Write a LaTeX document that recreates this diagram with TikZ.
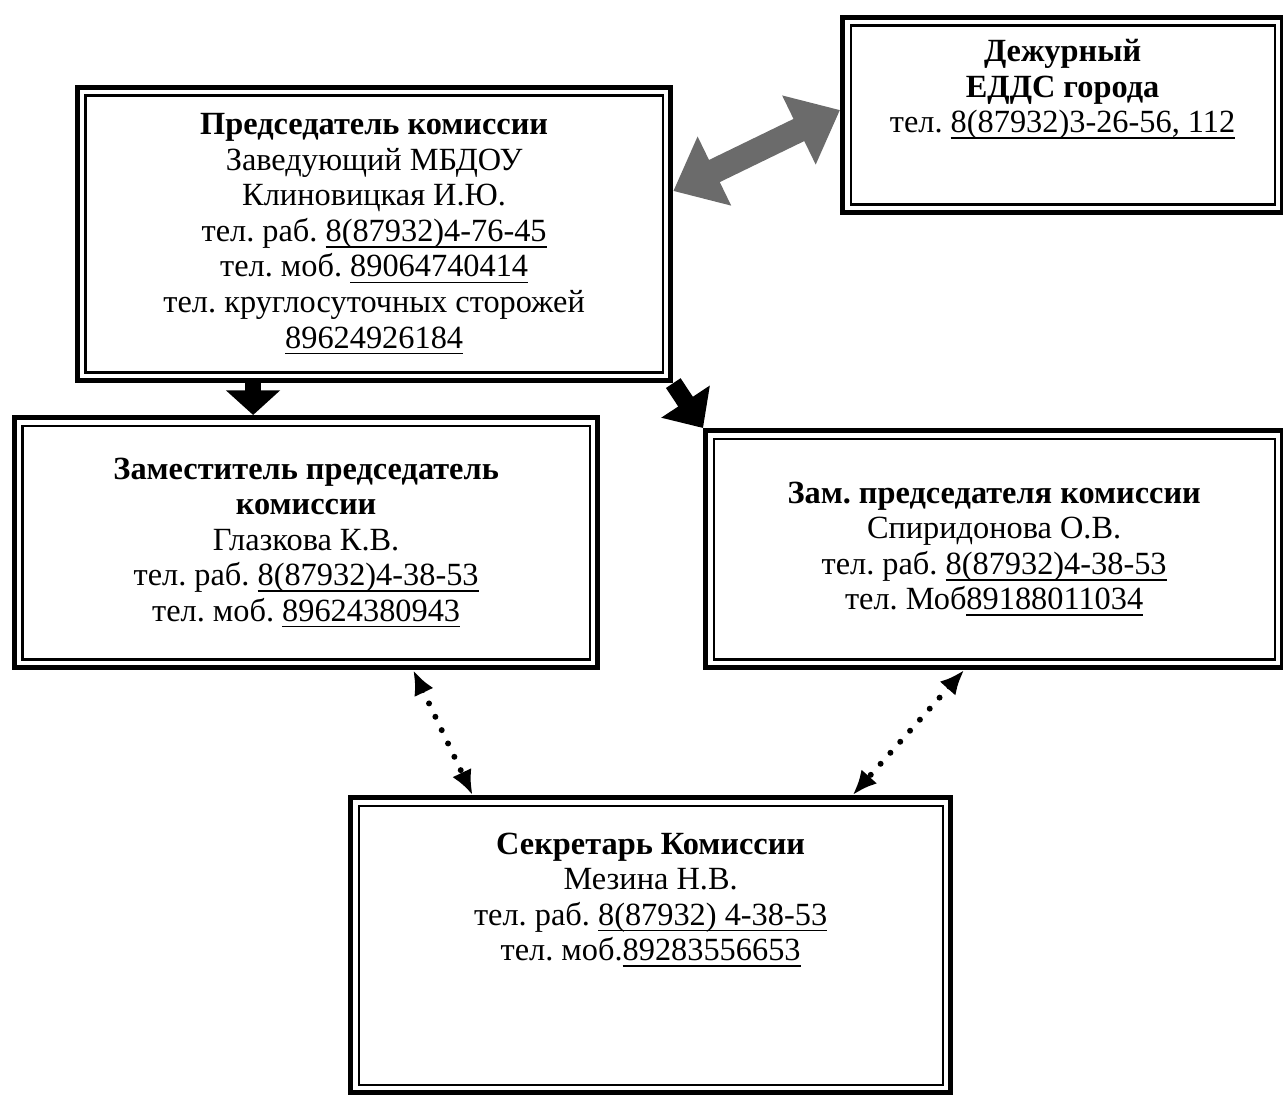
\documentclass[tikz,border=0pt]{standalone}
\usepackage{fontspec}
\setmainfont{Liberation Serif}
\usetikzlibrary{arrows.meta,calc}

\frenchspacing
\newsavebox\phbox
\newcommand\ph[1]{\sbox\phbox{#1}\rlap{\rule[-1.8pt]{\wd\phbox}{0.5pt}}\usebox\phbox}

\tikzset{
  unit/.style={draw, line width=1.4pt, align=center, inner sep=0.1cm, anchor=north west,
    font=\fontsize{9.2}{10.1}\selectfont,
    path picture={\draw[line width=0.6pt]
      ([shift={(2.3pt,2.3pt)}]path picture bounding box.south west) rectangle
      ([shift={(-2.3pt,-2.3pt)}]path picture bounding box.north east);}},
  blockarrow/.style={line width=4.5pt, -{Triangle[width=15pt,length=7pt]}},
  bothway/.style={line width=7pt, draw=black!58, {Triangle[width=21pt,length=13pt]}-{Triangle[width=21pt,length=13pt]}},
  link/.style={line width=1.7pt, line cap=round, dash pattern=on 0pt off 4.2pt,
    {Latex[length=7pt,width=6pt]}-{Latex[length=7pt,width=6pt]}}
}

\begin{document}
\begin{tikzpicture}[x=0.01cm, y=-0.01cm]
  \useasboundingbox (0,0) rectangle (1283,1097);

  \node[unit, minimum width=5.93cm, minimum height=2.93cm] (chair) at (75,85)
    {\textbf{Председатель комиссии}\\ Заведующий МБДОУ\\ Клиновицкая И.Ю.\\
     тел. раб. \ph{8(87932)4-76-45}\\ тел. моб. \ph{89064740414}\\
     тел. круглосуточных сторожей\\ \ph{89624926184}};

  \node[unit, minimum width=4.4cm, text height=1.05cm, text depth=0.7cm] (edds) at (840,15)
    {\textbf{Дежурный}\\ \textbf{ЕДДС города}\\ тел. \ph{8(87932)3-26-56, 112}};

  \node[unit, minimum width=5.83cm, minimum height=2.5cm] (deputy) at (12,415)
    {\textbf{Заместитель председатель}\\ \textbf{комиссии}\\ Глазкова К.В.\\
     тел. раб. \ph{8(87932)4-38-53}\\ тел. моб. \ph{89624380943}};

  \node[unit, minimum width=5.77cm, minimum height=2.37cm] (vice) at (703,428)
    {\textbf{Зам. председателя комиссии}\\ Спиридонова О.В.\\
     тел. раб. \ph{8(87932)4-38-53}\\ тел. Моб\ph{89188011034}};

  \node[unit, minimum width=6cm, text height=1.53cm, text depth=1.22cm] (secretary) at (348,795)
    {\textbf{Секретарь Комиссии}\\ Мезина Н.В.\\
     тел. раб. \ph{8(87932) 4-38-53}\\ тел. моб.\ph{89283556653}};

  \draw[bothway] ([yshift=0.43cm]chair.east) -- ([yshift=0.05cm]edds.west);
  \draw[blockarrow] ([xshift=-1.21cm]chair.south) -- ([xshift=-0.53cm]deputy.north);
  \draw[blockarrow, line width=5pt, -{Triangle[width=16pt,length=9pt]}]
    (chair.south east) -- (vice.north west);

  \draw[link] ([xshift=1.07cm]deputy.south) -- ([xshift=-1.78cm]secretary.north);
  \draw[link] ([xshift=-0.3cm]vice.south) -- ([xshift=2.02cm]secretary.north);
\end{tikzpicture}
\end{document}
